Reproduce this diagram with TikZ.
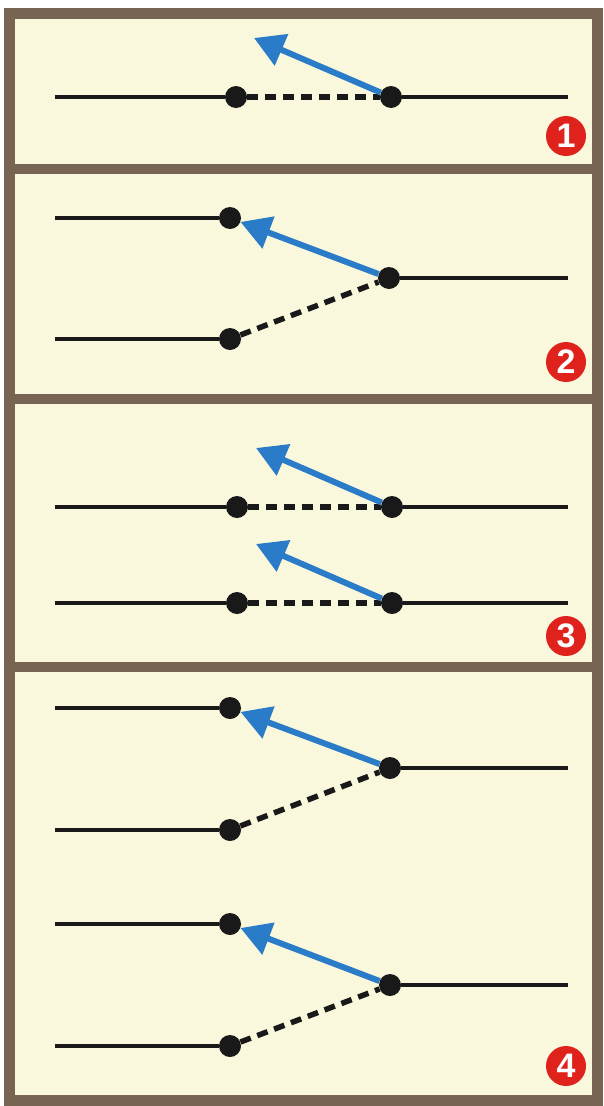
\documentclass[tikz,border=0pt]{standalone}
\usepackage{fontspec}
\setmainfont{Liberation Sans}
\usetikzlibrary{arrows.meta}
\definecolor{framebrown}{HTML}{776452}
\definecolor{paper}{HTML}{FAF8DC}
\definecolor{swingblue}{HTML}{2B7CC8}
\definecolor{badgered}{HTML}{E0221C}
\begin{document}
\begin{tikzpicture}[x=1pt,y=-1pt,
        contact/.style={circle,fill=black!90,inner sep=0pt,minimum size=22pt},
        wire/.style={line width=4pt,black!90},
        openwire/.style={line width=5.5pt,black!90,dash pattern=on 11pt off 7pt},
        swing/.style={line width=6pt,swingblue,-{Triangle[length=30pt,width=33pt]}},
        badge/.style={circle,fill=badgered,text=white,inner sep=0pt,minimum size=40pt,font=\fontsize{34}{34}\selectfont\bfseries}]
        \useasboundingbox (0,0) rectangle (604,1106);

        % frame and panels
        \fill[paper] (9,13.5) rectangle (597,1100.5);
        \draw[framebrown,line width=11pt] (9,13.5) rectangle (597,1100.5);
        \draw[framebrown,line width=10pt] (9,169) -- (597,169);
        \draw[framebrown,line width=10pt] (9,399) -- (597,399);
        \draw[framebrown,line width=10pt] (9,667) -- (597,667);

        % panel 1
        \node[contact] at (236,97) (a1) {};
        \node[contact] at (391,97) (b1) {};
        \coordinate (l1) at (55,97);
        \coordinate (r1) at (568,97);
        \coordinate (t1) at (254,38);
        \draw[wire] (l1) -- (a1);
        \draw[wire] (b1) -- (r1);
        \draw[openwire] (a1) -- (b1);
        \draw[swing] (b1) -- (t1);
        \node[badge] at (566,136) (n1) {1};

        % panel 2
        \node[contact] at (230,218) (u2) {};
        \node[contact] at (230,339) (d2) {};
        \node[contact] at (389,278) (b2) {};
        \coordinate (lu2) at (55,218);
        \coordinate (ld2) at (55,339);
        \coordinate (r2) at (568,278);
        \draw[wire] (lu2) -- (u2);
        \draw[wire] (ld2) -- (d2);
        \draw[wire] (b2) -- (r2);
        \draw[openwire] (d2) -- (b2);
        \draw[swing] (b2) -- (u2);
        \node[badge] at (566,362) (n2) {2};

        % panel 3
        \node[contact] at (237,507) (a3) {};
        \node[contact] at (392,507) (b3) {};
        \node[contact] at (237,603) (c3) {};
        \node[contact] at (392,603) (e3) {};
        \coordinate (la3) at (55,507);
        \coordinate (ra3) at (568,507);
        \coordinate (lc3) at (55,603);
        \coordinate (rc3) at (568,603);
        \coordinate (ta3) at (256,448);
        \coordinate (tc3) at (256,544);
        \draw[wire] (la3) -- (a3);
        \draw[wire] (b3) -- (ra3);
        \draw[wire] (lc3) -- (c3);
        \draw[wire] (e3) -- (rc3);
        \draw[openwire] (a3) -- (b3);
        \draw[openwire] (c3) -- (e3);
        \draw[swing] (b3) -- (ta3);
        \draw[swing] (e3) -- (tc3);
        \node[badge] at (566,636) (n3) {3};

        % panel 4
        \node[contact] at (230,708) (u4) {};
        \node[contact] at (230,830) (d4) {};
        \node[contact] at (390,768) (b4) {};
        \node[contact] at (230,924) (u5) {};
        \node[contact] at (230,1046) (d5) {};
        \node[contact] at (390,985) (b5) {};
        \coordinate (lu4) at (55,708);
        \coordinate (ld4) at (55,830);
        \coordinate (r4) at (568,768);
        \coordinate (lu5) at (55,924);
        \coordinate (ld5) at (55,1046);
        \coordinate (r5) at (568,985);
        \draw[wire] (lu4) -- (u4);
        \draw[wire] (ld4) -- (d4);
        \draw[wire] (b4) -- (r4);
        \draw[wire] (lu5) -- (u5);
        \draw[wire] (ld5) -- (d5);
        \draw[wire] (b5) -- (r5);
        \draw[openwire] (d4) -- (b4);
        \draw[openwire] (d5) -- (b5);
        \draw[swing] (b4) -- (u4);
        \draw[swing] (b5) -- (u5);
        \node[badge] at (566,1066) (n4) {4};
    \end{tikzpicture}
\end{document}
